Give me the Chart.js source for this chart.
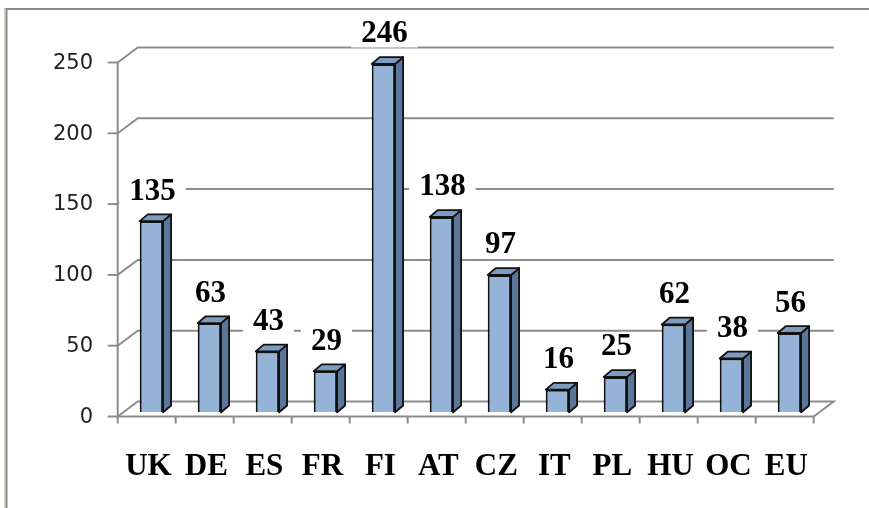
<!DOCTYPE html>
<html lang="en">
<head>
    <meta charset="UTF-8">
    <title>Bar chart</title>
    <script src="https://cdn.jsdelivr.net/npm/chart.js"></script>
    <style>
        html, body { margin: 0; padding: 0; background: #fff; }
        #wrap { width: 869px; height: 508px; }
    </style>
</head>
<body>
    <div id="wrap"><canvas id="chart" width="869" height="508"></canvas></div>
    <script>
        // Data
        const countries = ['UK', 'DE', 'ES', 'FR', 'FI', 'AT', 'CZ', 'IT', 'PL', 'HU', 'OC', 'EU'];
        const values = [135, 63, 43, 29, 246, 138, 97, 16, 25, 62, 38, 56];
        const yTicks = [0, 50, 100, 150, 200, 250];

        // 3D look: offsets between planes
        const FRONT_DX = -4.7, FRONT_DY = 4.2;   // bar plane -> front axis plane
        const BACK_DX = 20, BACK_DY = -15;       // front plane -> back wall
        const BAR_DX = 8, BAR_DY = 6.8;          // bar depth
        const GRID = '#8c8c8c';

        const frame = {
            id: 'frame',
            beforeDraw(chart) {
                const ctx = chart.ctx;
                ctx.save();
                ctx.fillStyle = '#fff';
                ctx.fillRect(0, 0, chart.width, chart.height);
                ctx.fillStyle = '#ddd6c0';
                ctx.fillRect(4, 8, 1.5, chart.height);
                ctx.fillStyle = '#8a8a8a';
                ctx.fillRect(5.5, 8, chart.width, 2);
                ctx.fillRect(5.5, 8, 2, chart.height);
                ctx.restore();
            }
        };

        const walls = {
            id: 'walls',
            beforeDatasetsDraw(chart) {
                const ctx = chart.ctx;
                const y = chart.scales.y;
                const area = chart.chartArea;
                const x0 = area.left + FRONT_DX;
                const x1 = area.right + FRONT_DX;
                const n = countries.length;
                const step = (x1 - x0) / n;
                ctx.save();
                ctx.strokeStyle = GRID;
                ctx.lineWidth = 2;
                yTicks.forEach(v => {
                    const yf = y.getPixelForValue(v) + FRONT_DY;
                    ctx.beginPath();
                    ctx.moveTo(x0, yf);
                    ctx.lineTo(x0 + BACK_DX, yf + BACK_DY);
                    ctx.lineTo(x1 + BACK_DX, yf + BACK_DY);
                    if (v === 0) ctx.lineTo(x1, yf);
                    ctx.stroke();
                    // tick mark
                    ctx.beginPath();
                    ctx.moveTo(x0 - 10, yf);
                    ctx.lineTo(x0, yf);
                    ctx.stroke();
                });
                const yTop = y.getPixelForValue(yTicks[yTicks.length - 1]) + FRONT_DY;
                const yZero = y.getPixelForValue(0) + FRONT_DY;
                ctx.beginPath();
                ctx.moveTo(x0, yTop);
                ctx.lineTo(x0, yZero);
                ctx.lineTo(x1, yZero);
                ctx.stroke();
                for (let i = 0; i <= n; i++) {
                    ctx.beginPath();
                    ctx.moveTo(x0 + i * step, yZero);
                    ctx.lineTo(x0 + i * step, yZero + 7);
                    ctx.stroke();
                }
                ctx.restore();
            }
        };

        const boxes = {
            id: 'boxes',
            afterDatasetsDraw(chart) {
                const ctx = chart.ctx;
                const meta = chart.getDatasetMeta(0);
                ctx.save();
                ctx.lineWidth = 1.8;
                ctx.strokeStyle = '#111';
                ctx.lineJoin = 'round';
                meta.data.forEach(bar => {
                    const l = bar.x - bar.width / 2;
                    const r = bar.x + bar.width / 2;
                    const t = bar.y;
                    const b = bar.base;
                    // side
                    ctx.beginPath();
                    ctx.moveTo(r, t);
                    ctx.lineTo(r + BAR_DX, t - BAR_DY);
                    ctx.lineTo(r + BAR_DX, b - BAR_DY);
                    ctx.lineTo(r, b);
                    ctx.closePath();
                    ctx.fillStyle = '#5b7699';
                    ctx.fill();
                    ctx.stroke();
                    // top
                    ctx.beginPath();
                    ctx.moveTo(l, t);
                    ctx.lineTo(l + BAR_DX, t - BAR_DY);
                    ctx.lineTo(r + BAR_DX, t - BAR_DY);
                    ctx.lineTo(r, t);
                    ctx.closePath();
                    ctx.fillStyle = '#7d9bc3';
                    ctx.fill();
                    ctx.stroke();
                });
                // value labels with white box
                ctx.font = 'bold 31px "Liberation Serif"';
                ctx.textAlign = 'center';
                ctx.textBaseline = 'middle';
                meta.data.forEach((bar, i) => {
                    const txt = String(values[i]);
                    const cx = bar.x + 1;
                    const cy = bar.y - 30.5;
                    const w = ctx.measureText(txt).width + 20;
                    ctx.fillStyle = '#fff';
                    ctx.fillRect(cx - w / 2, cy - 14, w, 28);
                    ctx.fillStyle = '#000';
                    ctx.fillText(txt, cx, cy + 1);
                });
                ctx.restore();
            }
        };

        new Chart(document.getElementById('chart'), {
            type: 'bar',
            data: {
                labels: countries,
                datasets: [{
                    data: values,
                    backgroundColor: '#95b3d7',
                    borderColor: '#111',
                    borderWidth: 2,
                    barPercentage: 0.403,
                    categoryPercentage: 1
                }]
            },
            options: {
                responsive: false,
                animation: false,
                devicePixelRatio: 1,
                layout: { padding: { left: 0, right: 50.6, top: 58.3, bottom: 0 } },
                plugins: {
                    legend: { display: false },
                    tooltip: { enabled: false }
                },
                scales: {
                    x: {
                        grid: { display: false, drawTicks: false },
                        border: { display: false },
                        ticks: {
                            color: '#000',
                            font: { family: '"Liberation Serif"', size: 31, weight: 'bold' },
                            padding: 36,
                            labelOffset: -3,
                            maxRotation: 0,
                            autoSkip: false
                        },
                        afterFit(scale) { scale.height = 95.7; }
                    },
                    y: {
                        min: 0,
                        max: 250,
                        grid: { display: false, drawTicks: false },
                        border: { display: false },
                        ticks: {
                            stepSize: 50,
                            color: '#222',
                            font: { family: '"DejaVu Sans"', size: 21 },
                            padding: 29.4,
                            labelOffset: 5
                        },
                        afterFit(scale) { scale.width = 122.4; }
                    }
                }
            },
            plugins: [frame, walls, boxes]
        });
    </script>
</body>
</html>
